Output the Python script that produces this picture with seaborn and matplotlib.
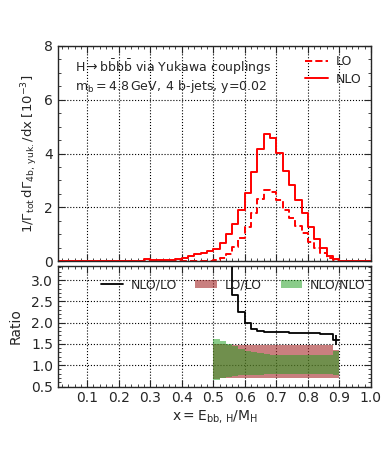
import numpy as np
import pandas as pd
import matplotlib
matplotlib.use("Agg")
import matplotlib.pyplot as plt
import seaborn as sns
from matplotlib.ticker import MultipleLocator
from matplotlib.lines import Line2D
from matplotlib.patches import Patch

# бины по x = E_bb,H / M_H, ширина 0.02
edges = np.round(np.arange(0, 1.0001, 0.02), 2)

# распределения, 1/Gamma dGamma/dx [1e-3]
nlo = [0, 0, 0, 0, 0, 0, 0, 0, 0, 0, 0, 0, 0, 0,
       0.07, 0.04, 0.04, 0.05, 0.05, 0.07, 0.12, 0.20, 0.27, 0.32, 0.37,
       0.45, 0.67, 1.00, 1.39, 1.90, 2.54, 3.32, 4.17, 4.71, 4.56,
       4.02, 3.34, 2.84, 2.27, 1.80, 1.28, 0.84, 0.50, 0.18, 0.08,
       0, 0, 0, 0, 0]
lo = [0] * 25 + [0.03, 0.12, 0.27, 0.52, 0.85, 1.27, 1.79, 2.32, 2.63, 2.56,
                 2.27, 1.90, 1.61, 1.30, 1.03, 0.73, 0.50, 0.30, 0.12, 0.05,
                 0, 0, 0, 0, 0]

# отношения в диапазоне x = 0.50 ... 0.90
r_edges = edges[25:46]
ratio = [15.0, 5.6, 3.7, 2.65, 2.24, 2.00, 1.85, 1.80, 1.79, 1.78,
         1.77, 1.77, 1.76, 1.76, 1.75, 1.75, 1.75, 1.74, 1.74, 1.60]
lo_band_hi = [1.50, 1.49, 1.48, 1.47, 1.47, 1.47, 1.47, 1.47, 1.47, 1.47,
              1.47, 1.47, 1.47, 1.47, 1.47, 1.47, 1.47, 1.47, 1.47, 1.35]
lo_band_lo = [0.68, 0.69, 0.70, 0.71, 0.71, 0.71, 0.71, 0.71, 0.71, 0.71,
              0.71, 0.71, 0.71, 0.71, 0.71, 0.71, 0.71, 0.71, 0.71, 0.70]
nlo_band_hi = [1.62, 1.56, 1.50, 1.45, 1.38, 1.33, 1.30, 1.28, 1.26, 1.25,
               1.24, 1.24, 1.24, 1.23, 1.23, 1.23, 1.23, 1.23, 1.23, 1.33]
nlo_band_lo = [0.66, 0.69, 0.72, 0.74, 0.76, 0.77, 0.78, 0.78, 0.79, 0.79,
               0.80, 0.80, 0.80, 0.80, 0.80, 0.80, 0.80, 0.80, 0.80, 0.78]
last_err = 0.12

lo_col = "brown"
nlo_col = (0.12, 0.62, 0.12)

sns.set_style("ticks")
plt.rcParams['font.family'] = ['DejaVu Sans']
plt.rcParams['mathtext.fontset'] = 'dejavusans'
plt.rcParams['font.size'] = 10

fig = plt.figure(figsize=(3.9, 4.55), dpi=100)
ax1 = fig.add_axes([0.149, 0.426, 0.802, 0.473])
ax2 = fig.add_axes([0.149, 0.1505, 0.802, 0.2649])


def steps(e, v):
    return pd.DataFrame({"x": e, "y": list(v) + [v[-1]]})


d_lo = steps(edges, lo)
d_nlo = steps(edges, nlo)
sns.lineplot(data=d_lo, x="x", y="y", ax=ax1, color="red", linestyle="--",
             drawstyle="steps-post", estimator=None, lw=1.4, label="LO")
sns.lineplot(data=d_nlo, x="x", y="y", ax=ax1, color="red",
             drawstyle="steps-post", estimator=None, lw=1.4, label="NLO")

ax1.set_xlim(0.008, 1.0)
ax1.set_ylim(0, 8)
ax1.set_xlabel("")
ax1.set_ylabel(r"$1/\Gamma_{\rm tot}\,\mathrm{d}\Gamma_{\rm 4b,\,yuk.}/\mathrm{dx}\;[10^{-3}]$",
               fontsize=9.5, labelpad=3)
ax1.yaxis.set_major_locator(MultipleLocator(2))
ax1.yaxis.set_minor_locator(MultipleLocator(0.5))
ax1.legend(loc="upper right", frameon=False, fontsize=9, handlelength=1.85,
           handletextpad=0.6, borderaxespad=0.35, labelspacing=0.35)
ax1.text(0.054, 0.879, r"$\mathrm{H\rightarrow b\bar{b}b\bar{b}}$ via Yukawa couplings",
         transform=ax1.transAxes, fontsize=9, va="baseline")
ax1.text(0.054, 0.795, r"$\mathrm{m_b = 4.8\,GeV},\;$4 b-jets, y=0.02",
         transform=ax1.transAxes, fontsize=9, va="baseline")
ax1.tick_params(labelbottom=False)

# нижняя панель: полосы и отношение
b_lo_hi = list(lo_band_hi) + [lo_band_hi[-1]]
b_lo_lo = list(lo_band_lo) + [lo_band_lo[-1]]
b_nlo_hi = list(nlo_band_hi) + [nlo_band_hi[-1]]
b_nlo_lo = list(nlo_band_lo) + [nlo_band_lo[-1]]
ax2.fill_between(r_edges, b_lo_lo, b_lo_hi, step="post", color=lo_col,
                 alpha=0.6, lw=0)
ax2.fill_between(r_edges, b_nlo_lo, b_nlo_hi, step="post", color=nlo_col,
                 alpha=0.52, lw=0)
d_r = steps(r_edges, ratio)
sns.lineplot(data=d_r, x="x", y="y", ax=ax2, color="black",
             drawstyle="steps-post", estimator=None, lw=1.3)
ax2.errorbar([(r_edges[-2] + r_edges[-1]) / 2], [ratio[-1]], yerr=last_err,
             color="black", lw=1.3, capsize=0)

ax2.set_xlim(0.008, 1.0)
ax2.set_ylim(0.5, 3.33)
ax2.set_ylabel("Ratio", fontsize=10, labelpad=6)
ax2.set_xlabel(r"$\mathrm{x = E_{bb,\,H}/M_H}$", fontsize=10, labelpad=2)
ax2.yaxis.set_major_locator(MultipleLocator(0.5))
ax2.yaxis.set_minor_locator(MultipleLocator(0.1))
handles = [Line2D([], [], color="black", lw=1.3),
           Patch(color=lo_col, alpha=0.6, lw=0),
           Patch(color=nlo_col, alpha=0.52, lw=0)]
ax2.legend(handles, ["NLO/LO", "LO/LO", "NLO/NLO"], loc="upper center",
           ncol=3, frameon=False, fontsize=9, handlelength=1.75,
           handletextpad=0.6, columnspacing=1.5, borderaxespad=0.6,
           bbox_to_anchor=(0.56, 1.0))

for ax in (ax1, ax2):
    ax.xaxis.set_major_locator(MultipleLocator(0.1))
    ax.xaxis.set_minor_locator(MultipleLocator(0.02))
    ax.tick_params(which="both", direction="in", top=True, right=True,
                   labelsize=10)
    ax.tick_params(which="major", length=5)
    ax.tick_params(which="minor", length=2.5)
    ax.grid(True, which="major", color="black", ls=":", lw=0.8)
    for s in ax.spines.values():
        s.set_linewidth(1.0)

ax2.set_xticks(np.round(np.arange(0.1, 1.01, 0.1), 1))

fig.savefig("out.png", dpi=100)
